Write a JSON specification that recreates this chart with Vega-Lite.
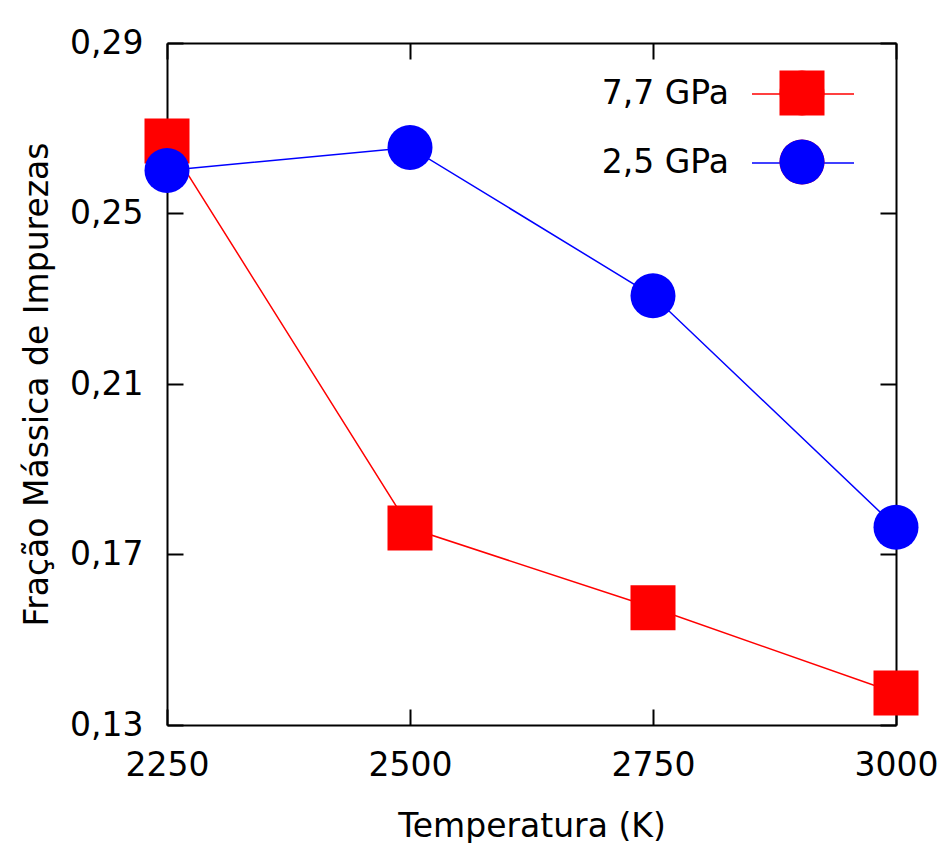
{
  "$schema": "https://vega.github.io/schema/vega-lite/v6.json",
  "width": 729,
  "height": 682,
  "autosize": {"type": "none"},
  "padding": {"left": 167, "top": 43, "right": 48, "bottom": 118},
  "background": "white",
  "config": {
    "view": {"stroke": null},
    "font": "DejaVu Sans",
    "axis": {
      "domainColor": "black",
      "domainWidth": 2,
      "tickColor": "black",
      "tickWidth": 2,
      "tickSize": -16,
      "labelColor": "black",
      "labelFont": "DejaVu Sans",
      "labelFontSize": 33,
      "titleFont": "DejaVu Sans",
      "titleFontSize": 33,
      "titleFontWeight": "normal",
      "titleColor": "black",
      "grid": false,
      "zindex": 1,
      "labelFlush": false,
      "labelOverlap": false
    }
  },
  "data": {
    "values": [
      {"T": 2250, "f": 0.2670, "serie": "7,7 GPa"},
      {"T": 2500, "f": 0.1762, "serie": "7,7 GPa"},
      {"T": 2750, "f": 0.1575, "serie": "7,7 GPa"},
      {"T": 3000, "f": 0.1375, "serie": "7,7 GPa"},
      {"T": 2250, "f": 0.2601, "serie": "2,5 GPa"},
      {"T": 2500, "f": 0.2655, "serie": "2,5 GPa"},
      {"T": 2750, "f": 0.2307, "serie": "2,5 GPa"},
      {"T": 3000, "f": 0.1764, "serie": "2,5 GPa"}
    ]
  },
  "layer": [
    {
      "mark": {"type": "line", "strokeWidth": 1.5},
      "encoding": {
        "x": {
          "field": "T", "type": "quantitative",
          "scale": {"domain": [2250, 3000], "nice": false, "zero": false},
          "axis": {"orient": "bottom", "values": [2250, 2500, 2750, 3000], "format": "d", "labelPadding": 40, "title": "Temperatura (K)", "titlePadding": 28}
        },
        "y": {
          "field": "f", "type": "quantitative",
          "scale": {"domain": [0.13, 0.29], "nice": false, "zero": false},
          "axis": {"orient": "left", "values": [0.13, 0.17, 0.21, 0.25, 0.29], "labelExpr": "replace(format(datum.value, '.2f'), '.', ',')", "labelPadding": 40, "title": "Fração Mássica de Impurezas", "titlePadding": 15}
        },
        "color": {
          "field": "serie", "type": "nominal",
          "scale": {"domain": ["7,7 GPa", "2,5 GPa"], "range": ["#ff0000", "#0000ff"]},
          "legend": {
            "orient": "none",
            "legendX": 584,
            "legendY": -1,
            "title": null,
            "padding": 0,
            "symbolType": "stroke",
            "symbolSize": 10404,
            "symbolStrokeWidth": 1.5,
            "labelAlign": "right",
            "labelOffset": -126,
            "rowPadding": -33,
            "labelFontSize": 33,
            "labelColor": "black",
            "labelFont": "DejaVu Sans",
            "labelLimit": 0
          }
        }
      }
    },
    {
      "mark": {"type": "point", "filled": true, "size": 2025, "opacity": 1},
      "encoding": {
        "x": {
          "field": "T", "type": "quantitative",
          "axis": {"orient": "top", "values": [2250, 2500, 2750, 3000], "labels": false, "title": null}
        },
        "y": {
          "field": "f", "type": "quantitative",
          "axis": {"orient": "right", "values": [0.13, 0.17, 0.21, 0.25, 0.29], "labels": false, "title": null}
        },
        "fill": {
          "field": "serie", "type": "nominal",
          "sort": ["7,7 GPa", "2,5 GPa"],
          "scale": {"range": ["#ff0000", "#0000ff"]},
          "legend": {
            "orient": "none",
            "legendX": 612.5,
            "legendY": 27.5,
            "title": null,
            "padding": 0,
            "symbolSize": 2025,
            "symbolStrokeWidth": 0,
            "labelOpacity": 0,
            "labelFontSize": 1,
            "rowPadding": 24
          }
        },
        "shape": {
          "field": "serie", "type": "nominal",
          "sort": ["7,7 GPa", "2,5 GPa"],
          "scale": {"range": ["square", "circle"]},
          "legend": {
            "orient": "none",
            "legendX": 612.5,
            "legendY": 27.5,
            "title": null,
            "padding": 0,
            "symbolSize": 2025,
            "symbolStrokeWidth": 0,
            "symbolFillColor": "#ff0000",
            "labelOpacity": 0,
            "labelFontSize": 1,
            "rowPadding": 24
          }
        }
      }
    }
  ],
  "resolve": {"axis": {"x": "independent", "y": "independent"}}
}
